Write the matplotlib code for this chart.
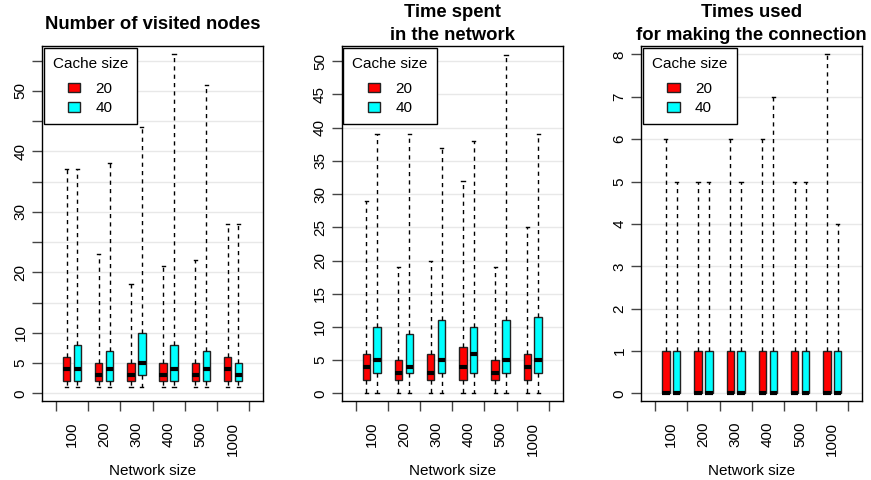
import matplotlib
matplotlib.use("Agg")
import matplotlib.pyplot as plt
from matplotlib.patches import Patch

plt.rcParams['font.family'] = ['Liberation Sans', 'DejaVu Sans']

# Network sizes (groups) and cache sizes (series)
sizes = ["100", "200", "300", "400", "500", "1000"]
cache_sizes = ["20", "40"]
colors = ["#ff0000", "#00ffff"]

# Panel 1: number of visited nodes  (lower whisker, q1, median, q3, upper whisker)
visited_20_lo = [1, 1, 1, 1, 1, 1]
visited_20_q1 = [2, 2, 2, 2, 2, 2]
visited_20_med = [4, 3, 3, 3, 3, 4]
visited_20_q3 = [6, 5, 5, 5, 5, 6]
visited_20_hi = [37, 23, 18, 21, 22, 28]
visited_40_lo = [1, 1, 1, 1, 1, 1]
visited_40_q1 = [2, 2, 3, 2, 2, 2]
visited_40_med = [4, 4, 5, 4, 4, 3]
visited_40_q3 = [8, 7, 10, 8, 7, 5]
visited_40_hi = [37, 38, 44, 56, 51, 28]

# Panel 2: time spent in the network
time_20_lo = [0, 0, 0, 0, 0, 0]
time_20_q1 = [2, 2, 2, 2, 2, 2]
time_20_med = [4, 3, 3, 4, 3, 4]
time_20_q3 = [6, 5, 6, 7, 5, 6]
time_20_hi = [29, 19, 20, 32, 19, 25]
time_40_lo = [0, 0, 0, 0, 0, 0]
time_40_q1 = [3, 3, 3, 3, 3, 3]
time_40_med = [5, 4, 5, 6, 5, 5]
time_40_q3 = [10, 9, 11, 10, 11, 11.5]
time_40_hi = [39, 39, 37, 38, 51, 39]

# Panel 3: times used for making the connection
conn_20_lo = [0, 0, 0, 0, 0, 0]
conn_20_q1 = [0, 0, 0, 0, 0, 0]
conn_20_med = [0, 0, 0, 0, 0, 0]
conn_20_q3 = [1, 1, 1, 1, 1, 1]
conn_20_hi = [6, 5, 6, 6, 5, 8]
conn_40_lo = [0, 0, 0, 0, 0, 0]
conn_40_q1 = [0, 0, 0, 0, 0, 0]
conn_40_med = [0, 0, 0, 0, 0, 0]
conn_40_q3 = [1, 1, 1, 1, 1, 1]
conn_40_hi = [5, 5, 5, 7, 5, 4]


def make_stats(lo, q1, med, q3, hi):
    return [dict(whislo=a, q1=b, med=c, q3=d, whishi=e, fliers=[])
            for a, b, c, d, e in zip(lo, q1, med, q3, hi)]


panels = [
    dict(title="Number of visited nodes",
         s20=make_stats(visited_20_lo, visited_20_q1, visited_20_med, visited_20_q3, visited_20_hi),
         s40=make_stats(visited_40_lo, visited_40_q1, visited_40_med, visited_40_q3, visited_40_hi),
         ylim=(-1.27, 57.4), ticks=list(range(0, 56, 5)),
         labels=["0", "5", "10", "", "20", "", "30", "", "40", "", "50", ""],
         left=42),
    dict(title="Time spent\nin the network",
         s20=make_stats(time_20_lo, time_20_q1, time_20_med, time_20_q3, time_20_hi),
         s40=make_stats(time_40_lo, time_40_q1, time_40_med, time_40_q3, time_40_hi),
         ylim=(-1.15, 52.3), ticks=list(range(0, 51, 5)),
         labels=[str(v) for v in range(0, 51, 5)],
         left=341.7),
    dict(title="Times used\nfor making the connection",
         s20=make_stats(conn_20_lo, conn_20_q1, conn_20_med, conn_20_q3, conn_20_hi),
         s40=make_stats(conn_40_lo, conn_40_q1, conn_40_med, conn_40_q3, conn_40_hi),
         ylim=(-0.18, 8.2), ticks=list(range(0, 9)),
         labels=[str(v) for v in range(0, 9)],
         left=641.3),
]

W, H = 871, 480
fig = plt.figure(figsize=(W / 100, H / 100), dpi=100)

ax_w, ax_top, ax_bot = 221, 46, 401
group_x = list(range(1, len(sizes) + 1))
offset = 0.168
box_w = 0.23

for p in panels:
    ax = fig.add_axes([p["left"] / W, (H - ax_bot) / H, ax_w / W, (ax_bot - ax_top) / H])

    for stats, col, sign in [(p["s20"], colors[0], -1), (p["s40"], colors[1], 1)]:
        pos = [g + sign * offset for g in group_x]
        ax.bxp(stats, positions=pos, widths=box_w, patch_artist=True,
               showfliers=False, capwidths=0.1,
               boxprops=dict(facecolor=col, edgecolor="#222222", linewidth=1),
               medianprops=dict(color="black", linewidth=3, solid_capstyle="butt"),
               whiskerprops=dict(color="black", linewidth=1, linestyle=(0, (3, 3))),
               capprops=dict(color="black", linewidth=1),
               manage_ticks=False, zorder=3)

    ax.set_xlim(0.07, 6.93)
    ax.set_ylim(*p["ylim"])

    # y axis
    ax.set_yticks(p["ticks"])
    ax.set_yticklabels(p["labels"], rotation=90, va="center", fontsize=11)
    ax.grid(axis="y", color="#e8e8e8", linewidth=1, zorder=0)
    ax.set_axisbelow(True)

    # x axis: boundary ticks, labels at group centres
    ax.set_xticks([g - 0.5 for g in group_x] + [group_x[-1] + 0.5])
    ax.set_xticklabels([])
    ax.set_xticks(group_x, minor=True)
    ax.set_xticklabels(sizes, minor=True, rotation=90, fontsize=11)
    ax.tick_params(axis="x", which="minor", length=0, pad=15)
    ax.tick_params(axis="both", which="major", length=7, width=1, color="#444444")
    ax.set_xlabel("Network size", fontsize=11)
    ax.xaxis.set_label_coords(0.5, -70 / (ax_bot - ax_top))
    ax.xaxis.label.set_va("center")

    for s in ax.spines.values():
        s.set_linewidth(1)
        s.set_color("black")

    ax.text(0.5, 1 + 22 / (ax_bot - ax_top), p["title"], transform=ax.transAxes,
            ha="center", va="center", fontsize=13.3, fontweight="bold",
            linespacing=1.4)

    handles = [Patch(facecolor=c, edgecolor="#222222", label=l) for c, l in zip(colors, cache_sizes)]
    leg = ax.legend(handles=handles, title="Cache size", loc="upper left",
                    borderaxespad=0.1, fontsize=11, title_fontsize=11,
                    fancybox=False, framealpha=1, edgecolor="black",
                    handlelength=0.8, handleheight=0.6, handletextpad=1.0,
                    labelspacing=0.35, borderpad=0.6)
    leg.get_frame().set_linewidth(1)
    leg._legend_box.align = "center"
    leg._legend_box.sep = 8

fig.savefig("out.png", dpi=100)
